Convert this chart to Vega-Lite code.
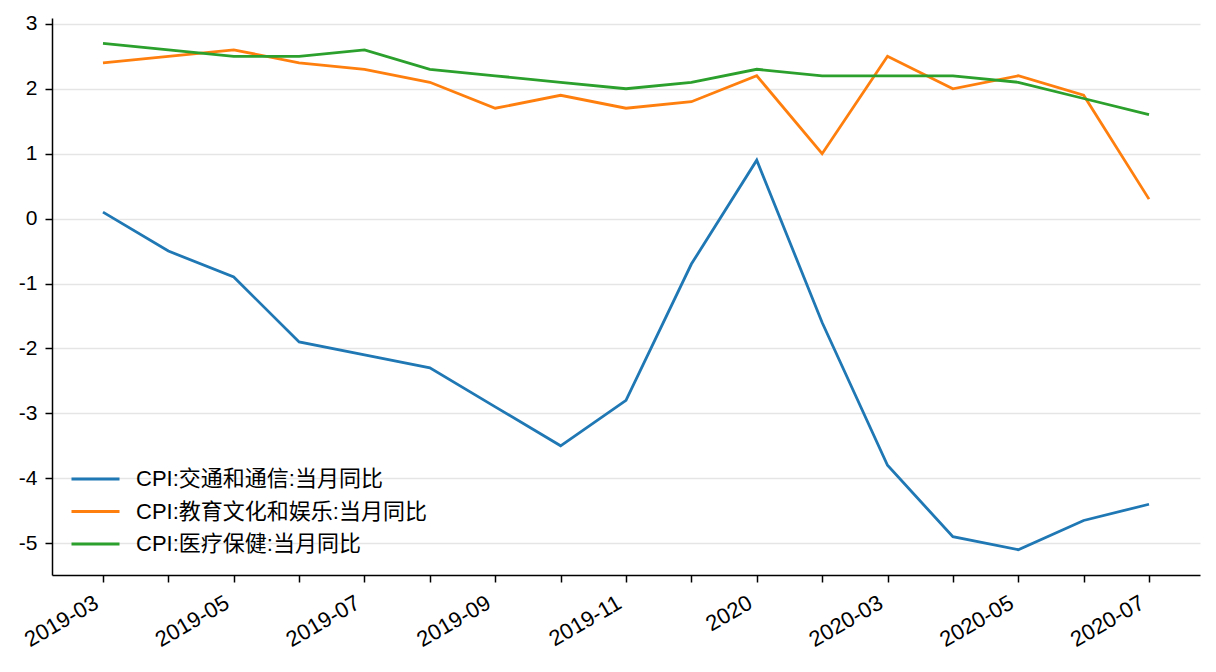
{
  "$schema": "https://vega.github.io/schema/vega-lite/v6.json",
  "autosize": "none",
  "padding": {"left": 52, "top": 18, "right": 16, "bottom": 97},
  "width": 1148,
  "height": 557,
  "background": "white",
  "config": {
    "view": {"stroke": null},
    "font": "Liberation Sans, Noto Sans CJK SC",
    "axis": {
      "labelFont": "Liberation Sans, Noto Sans CJK SC",
      "labelFontSize": 21,
      "labelColor": "#000000",
      "domainColor": "#000000",
      "domainWidth": 1.5,
      "tickColor": "#000000",
      "tickWidth": 1.5,
      "tickSize": 7,
      "title": null
    }
  },
  "data": {
    "values": [
      {"month": "2019-03", "series": "CPI:交通和通信:当月同比", "value": 0.1},
      {"month": "2019-04", "series": "CPI:交通和通信:当月同比", "value": -0.5},
      {"month": "2019-05", "series": "CPI:交通和通信:当月同比", "value": -0.9},
      {"month": "2019-06", "series": "CPI:交通和通信:当月同比", "value": -1.9},
      {"month": "2019-07", "series": "CPI:交通和通信:当月同比", "value": -2.1},
      {"month": "2019-08", "series": "CPI:交通和通信:当月同比", "value": -2.3},
      {"month": "2019-09", "series": "CPI:交通和通信:当月同比", "value": -2.9},
      {"month": "2019-10", "series": "CPI:交通和通信:当月同比", "value": -3.5},
      {"month": "2019-11", "series": "CPI:交通和通信:当月同比", "value": -2.8},
      {"month": "2019-12", "series": "CPI:交通和通信:当月同比", "value": -0.7},
      {"month": "2020-01", "series": "CPI:交通和通信:当月同比", "value": 0.9},
      {"month": "2020-02", "series": "CPI:交通和通信:当月同比", "value": -1.6},
      {"month": "2020-03", "series": "CPI:交通和通信:当月同比", "value": -3.8},
      {"month": "2020-04", "series": "CPI:交通和通信:当月同比", "value": -4.9},
      {"month": "2020-05", "series": "CPI:交通和通信:当月同比", "value": -5.1},
      {"month": "2020-06", "series": "CPI:交通和通信:当月同比", "value": -4.65},
      {"month": "2020-07", "series": "CPI:交通和通信:当月同比", "value": -4.4},
      {"month": "2019-03", "series": "CPI:教育文化和娱乐:当月同比", "value": 2.4},
      {"month": "2019-04", "series": "CPI:教育文化和娱乐:当月同比", "value": 2.5},
      {"month": "2019-05", "series": "CPI:教育文化和娱乐:当月同比", "value": 2.6},
      {"month": "2019-06", "series": "CPI:教育文化和娱乐:当月同比", "value": 2.4},
      {"month": "2019-07", "series": "CPI:教育文化和娱乐:当月同比", "value": 2.3},
      {"month": "2019-08", "series": "CPI:教育文化和娱乐:当月同比", "value": 2.1},
      {"month": "2019-09", "series": "CPI:教育文化和娱乐:当月同比", "value": 1.7},
      {"month": "2019-10", "series": "CPI:教育文化和娱乐:当月同比", "value": 1.9},
      {"month": "2019-11", "series": "CPI:教育文化和娱乐:当月同比", "value": 1.7},
      {"month": "2019-12", "series": "CPI:教育文化和娱乐:当月同比", "value": 1.8},
      {"month": "2020-01", "series": "CPI:教育文化和娱乐:当月同比", "value": 2.2},
      {"month": "2020-02", "series": "CPI:教育文化和娱乐:当月同比", "value": 1.0},
      {"month": "2020-03", "series": "CPI:教育文化和娱乐:当月同比", "value": 2.5},
      {"month": "2020-04", "series": "CPI:教育文化和娱乐:当月同比", "value": 2.0},
      {"month": "2020-05", "series": "CPI:教育文化和娱乐:当月同比", "value": 2.2},
      {"month": "2020-06", "series": "CPI:教育文化和娱乐:当月同比", "value": 1.9},
      {"month": "2020-07", "series": "CPI:教育文化和娱乐:当月同比", "value": 0.3},
      {"month": "2019-03", "series": "CPI:医疗保健:当月同比", "value": 2.7},
      {"month": "2019-04", "series": "CPI:医疗保健:当月同比", "value": 2.6},
      {"month": "2019-05", "series": "CPI:医疗保健:当月同比", "value": 2.5},
      {"month": "2019-06", "series": "CPI:医疗保健:当月同比", "value": 2.5},
      {"month": "2019-07", "series": "CPI:医疗保健:当月同比", "value": 2.6},
      {"month": "2019-08", "series": "CPI:医疗保健:当月同比", "value": 2.3},
      {"month": "2019-09", "series": "CPI:医疗保健:当月同比", "value": 2.2},
      {"month": "2019-10", "series": "CPI:医疗保健:当月同比", "value": 2.1},
      {"month": "2019-11", "series": "CPI:医疗保健:当月同比", "value": 2.0},
      {"month": "2019-12", "series": "CPI:医疗保健:当月同比", "value": 2.1},
      {"month": "2020-01", "series": "CPI:医疗保健:当月同比", "value": 2.3},
      {"month": "2020-02", "series": "CPI:医疗保健:当月同比", "value": 2.2},
      {"month": "2020-03", "series": "CPI:医疗保健:当月同比", "value": 2.2},
      {"month": "2020-04", "series": "CPI:医疗保健:当月同比", "value": 2.2},
      {"month": "2020-05", "series": "CPI:医疗保健:当月同比", "value": 2.1},
      {"month": "2020-06", "series": "CPI:医疗保健:当月同比", "value": 1.85},
      {"month": "2020-07", "series": "CPI:医疗保健:当月同比", "value": 1.6}
    ]
  },
  "mark": {"type": "line", "strokeWidth": 2.8},
  "encoding": {
    "x": {
      "field": "month",
      "type": "ordinal",
      "scale": {"type": "point", "padding": 0.78},
      "axis": {
        "labelAngle": -30,
        "labelAlign": "right",
        "labelBaseline": "top",
        "labelFontSize": 22,
        "labelPadding": 10,
        "labelOffset": -12,
        "labelExpr": "indexof(['2019-03','2019-05','2019-07','2019-09','2019-11','2020-01','2020-03','2020-05','2020-07'], datum.value) >= 0 ? (datum.value == '2020-01' ? '2020' : datum.value) : ''",
        "grid": false
      }
    },
    "y": {
      "field": "value",
      "type": "quantitative",
      "scale": {"domain": [-5.49, 3.09], "nice": false, "zero": false},
      "axis": {
        "values": [-5, -4, -3, -2, -1, 0, 1, 2, 3],
        "labelExpr": "replace(datum.label, '−', '-')",
        "grid": true,
        "gridColor": "#e5e5e5",
        "gridWidth": 1.5,
        "labelPadding": 8
      }
    },
    "color": {
      "field": "series",
      "type": "nominal",
      "sort": ["CPI:交通和通信:当月同比", "CPI:教育文化和娱乐:当月同比", "CPI:医疗保健:当月同比"],
      "scale": {
        "domain": ["CPI:交通和通信:当月同比", "CPI:教育文化和娱乐:当月同比", "CPI:医疗保健:当月同比"],
        "range": ["#1f77b4", "#ff7f0e", "#2ca02c"]
      },
      "legend": {
        "title": null,
        "orient": "none",
        "legendX": 18,
        "legendY": 445,
        "symbolType": "stroke",
        "symbolSize": 2304,
        "symbolStrokeWidth": 2.8,
        "labelFontSize": 22,
        "labelLimit": 500,
        "labelFont": "Liberation Sans, Noto Sans CJK SC",
        "labelColor": "#000000",
        "labelOffset": 15,
        "clipHeight": 32,
        "rowPadding": 0.5
      }
    }
  }
}
